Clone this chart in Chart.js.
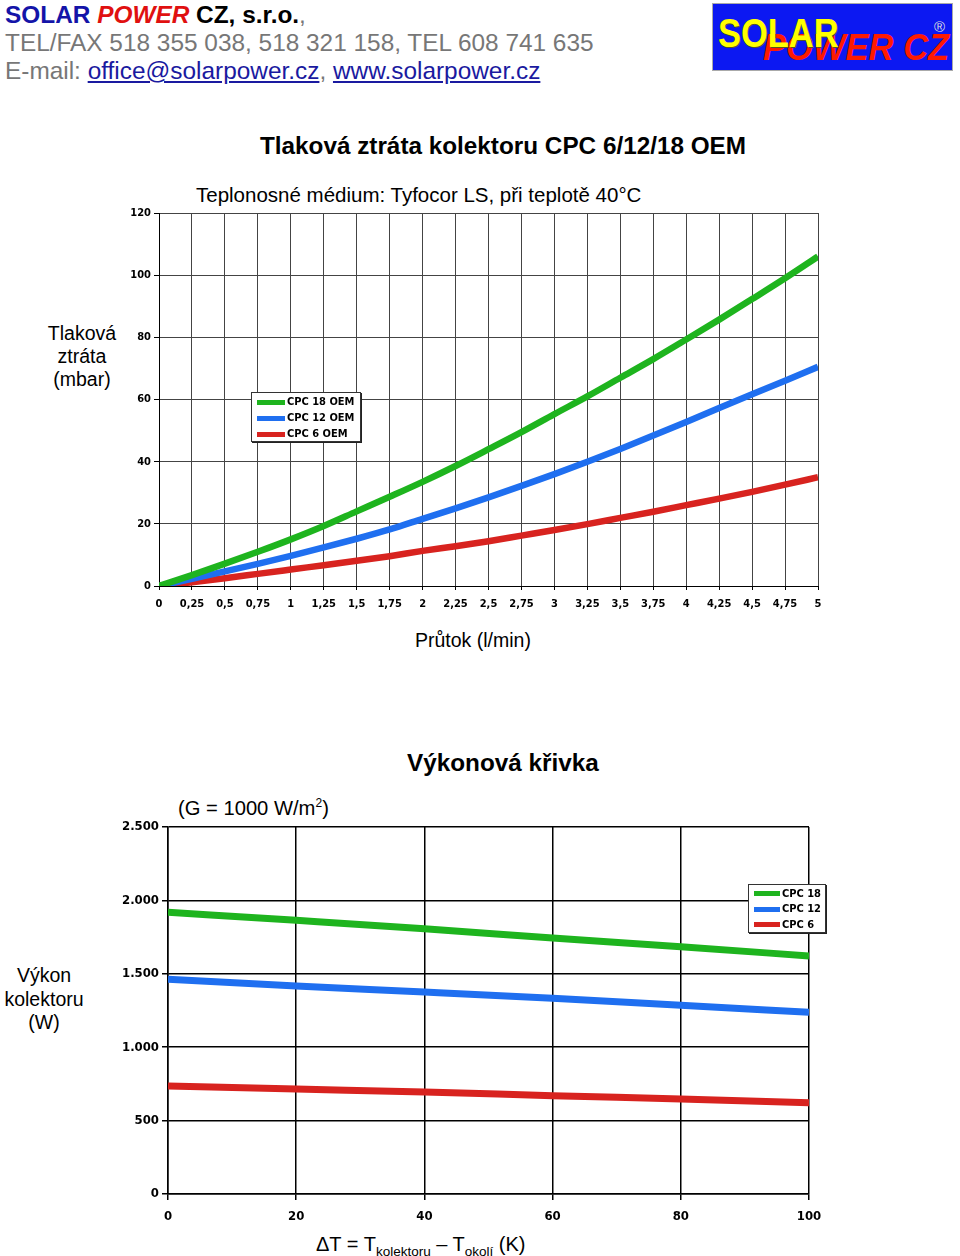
<!DOCTYPE html>
<html>
<head>
<meta charset="utf-8">
<script src="https://cdn.jsdelivr.net/npm/chart.js@4.4.1/dist/chart.umd.min.js"></script>
<style>
  body { margin: 0; width: 960px; height: 1256px; background: #fff; font-family: "Liberation Sans", Arial, sans-serif; position: relative; overflow: hidden; }
  .abs { position: absolute; white-space: nowrap; }
  .hdr { left: 5px; font-size: 24.4px; line-height: 28px; color: #777; }
  .hdr a { color: #1a1aa0; text-decoration: underline; }
  .logo { left: 712px; top: 3px; width: 239px; height: 66px; background: #0c18f2; border: 1px solid #aaa; overflow: hidden; }
  .legend { background: #fff; border: 1px solid #333; box-shadow: 1px 1px 0 #222; font-family: "DejaVu Sans Condensed", "DejaVu Sans", sans-serif; font-weight: bold; color: #000; box-sizing: border-box; }
  .legend .row { display: flex; align-items: center; line-height: 14px; }
  .legend .sw { display: inline-block; }
  canvas { position: absolute; }
</style>
</head>
<body>

<div class="abs hdr" style="top:1px;"><b style="color:#1414a8">SOLAR</b> <b style="color:#e01010;font-style:italic">POWER</b> <b style="color:#000">CZ, s.r.o.</b>,</div>
<div class="abs hdr" style="top:29px;">TEL/FAX 518 355 038, 518 321 158, TEL 608 741 635</div>
<div class="abs hdr" style="top:57px;">E-mail: <a>office@solarpower.cz</a>, <a>www.solarpower.cz</a></div>

<div class="abs logo">
  <div class="abs" style="left:50px;top:23px;font:bold italic 36px 'Liberation Sans',Arial;color:#ff1a00;transform:scaleX(0.96);transform-origin:left;">POWER CZ</div>
  <div class="abs" style="left:5px;top:6px;font:bold 41px 'Liberation Sans',Arial;color:#ffff00;transform:scaleX(0.84);transform-origin:left;text-shadow:1px 1px 0 #552;">SOLAR</div>
  <div class="abs" style="left:221px;top:14px;font:15px 'Liberation Sans',Arial;color:#ddd;">®</div>
</div>

<div class="abs" style="left:0;width:1006px;text-align:center;top:132px;font-size:24.3px;font-weight:bold;">Tlaková ztráta kolektoru CPC 6/12/18 OEM</div>
<div class="abs" style="left:196px;top:183px;font-size:20.5px;">Teplonosné médium: Tyfocor LS, při teplotě 40°C</div>
<div class="abs" style="left:22px;width:120px;text-align:center;top:322px;font-size:19.5px;line-height:23px;white-space:normal;">Tlaková<br>ztráta<br>(mbar)</div>
<div class="abs" style="left:415px;top:629px;font-size:19.5px;">Průtok (l/min)</div>
<canvas id="dpChart" width="740" height="420" style="left:100px;top:200px;"></canvas>
<div id="dpLegend" class="abs legend" style="left:251px;top:392px;width:110px;height:50px;"></div>

<div class="abs" style="left:407px;top:749px;font-size:24.3px;font-weight:bold;">Výkonová křivka</div>
<div class="abs" style="left:178px;top:796px;font-size:20.2px;">(G = 1000 W/m<sup style="font-size:12px;">2</sup>)</div>
<div class="abs" style="left:0px;width:88px;text-align:center;top:964px;font-size:19.5px;line-height:23.5px;white-space:normal;">Výkon<br>kolektoru<br>(W)</div>
<div class="abs" style="left:316px;top:1233px;font-size:20px;">ΔT = T<sub style="font-size:13.5px;">kolektoru</sub> – T<sub style="font-size:13.5px;">okolí</sub> (K)</div>
<canvas id="pwChart" width="740" height="410" style="left:100px;top:815px;"></canvas>
<div id="pwLegend" class="abs legend" style="left:748px;top:884px;width:78px;height:49px;"></div>

<script>
// pressure drop chart (mbar vs l/min)
const flowLpm  = [0, 0.25, 0.5, 0.75, 1, 1.25, 1.5, 1.75, 2, 2.25, 2.5, 2.75, 3, 3.25, 3.5, 3.75, 4, 4.25, 4.5, 4.75, 5];
const dpCpc18  = [0, 3.5, 7.2, 11, 15, 19.3, 24, 28.7, 33.5, 38.6, 44, 49.5, 55.3, 61, 67, 73, 79.3, 85.7, 92.3, 99, 106];
const dpCpc12  = [0, 2.3, 4.7, 7.1, 9.7, 12.4, 15.2, 18.2, 21.6, 25, 28.5, 32.2, 36, 40, 44.1, 48.4, 52.8, 57.3, 61.7, 66, 70.5];
const dpCpc6   = [0, 1.2, 2.5, 3.9, 5.3, 6.7, 8.1, 9.6, 11.3, 12.8, 14.4, 16.2, 18, 19.9, 21.9, 23.9, 26, 28.1, 30.3, 32.6, 35];
const dpLabels = ["CPC 18 OEM", "CPC 12 OEM", "CPC 6 OEM"];

// power curve chart (W vs dT)
const deltaT    = [0, 20, 40, 60, 80, 100];
const pwCpc18   = [1919, 1864, 1807, 1744, 1685, 1621];
const pwCpc12   = [1463, 1417, 1376, 1333, 1285, 1238];
const pwCpc6    = [736, 715, 695, 670, 647, 622];
const pwLabels  = ["CPC 18", "CPC 12", "CPC 6"];

const colors = ["#1eb41e", "#1f6ff0", "#d8231f"];
const tickFont = { family: "'DejaVu Sans Condensed', 'DejaVu Sans', sans-serif", weight: "bold" };

function toPoints(xs, ys) {
  return xs.map((x, i) => ({ x: x, y: ys[i] }));
}

function makeDatasets(xs, series, labels, width) {
  return series.map((ys, i) => ({
    label: labels[i],
    data: toPoints(xs, ys),
    borderColor: colors[i],
    backgroundColor: colors[i],
    borderWidth: width,
    pointRadius: 0,
    cubicInterpolationMode: "monotone",
    fill: false
  }));
}

function buildLegend(id, labels, fontSize, swW, swH, gap) {
  const el = document.getElementById(id);
  el.style.padding = "1px 0 0 5px";
  labels.forEach((l, i) => {
    const row = document.createElement("div");
    row.className = "row";
    row.style.height = gap + "px";
    row.style.fontSize = fontSize + "px";
    row.innerHTML = '<span class="sw" style="width:' + swW + 'px;height:' + swH + 'px;background:' + colors[i] + ';margin-right:2px;"></span>' + l;
    el.appendChild(row);
  });
}

function fmtComma(v) {
  return String(+v.toFixed(2)).replace(".", ",");
}
function fmtThousand(v) {
  return v >= 1000 ? Math.floor(v / 1000) + "." + String(v % 1000).padStart(3, "0") : String(v);
}

new Chart(document.getElementById("dpChart"), {
  type: "line",
  data: { datasets: makeDatasets(flowLpm, [dpCpc18, dpCpc12, dpCpc6], dpLabels, 6.5) },
  options: {
    responsive: false,
    animation: false,
    devicePixelRatio: 1,
    layout: { padding: { top: 13, right: 22, left: 0, bottom: 0 } },
    plugins: { legend: { display: false }, tooltip: { enabled: false } },
    scales: {
      x: {
        type: "linear", min: 0, max: 5,
        afterFit: s => { s.height = 34; },
        ticks: { stepSize: 0.25, autoSkip: false, maxRotation: 0, color: "#000", font: Object.assign({ size: 11 }, tickFont), padding: 8, callback: fmtComma },
        grid: { color: "#444", lineWidth: 1, tickLength: 4, tickColor: "#000" },
        border: { color: "#000", width: 1 }
      },
      y: {
        min: 0, max: 120,
        afterFit: s => { s.width = 59; },
        ticks: { stepSize: 20, color: "#000", font: Object.assign({ size: 11 }, tickFont), padding: 3 },
        grid: { color: "#444", lineWidth: 1, tickLength: 5, tickColor: "#000" },
        border: { color: "#000", width: 1 }
      }
    }
  }
});

new Chart(document.getElementById("pwChart"), {
  type: "line",
  data: { datasets: makeDatasets(deltaT, [pwCpc18, pwCpc12, pwCpc6], pwLabels, 7) },
  options: {
    responsive: false,
    animation: false,
    devicePixelRatio: 1,
    layout: { padding: { top: 12, right: 31, left: 0, bottom: 0 } },
    plugins: { legend: { display: false }, tooltip: { enabled: false } },
    scales: {
      x: {
        type: "linear", min: 0, max: 100,
        afterFit: s => { s.height = 31; },
        ticks: { stepSize: 20, maxRotation: 0, color: "#000", font: Object.assign({ size: 13 }, tickFont), padding: 9, callback: v => String(v) },
        grid: { color: "#000", lineWidth: 1.5, tickLength: 6, tickColor: "#000" },
        border: { color: "#000", width: 1.5 }
      },
      y: {
        min: 0, max: 2500,
        afterFit: s => { s.width = 68; },
        ticks: { stepSize: 500, color: "#000", font: Object.assign({ size: 13 }, tickFont), padding: 3, callback: fmtThousand },
        grid: { color: "#000", lineWidth: 1.5, tickLength: 6, tickColor: "#000" },
        border: { color: "#000", width: 1.5 }
      }
    }
  }
});

buildLegend("dpLegend", dpLabels, 11, 28, 5, 16);
buildLegend("pwLegend", pwLabels, 11, 26, 5, 15.5);
</script>
</body>
</html>
